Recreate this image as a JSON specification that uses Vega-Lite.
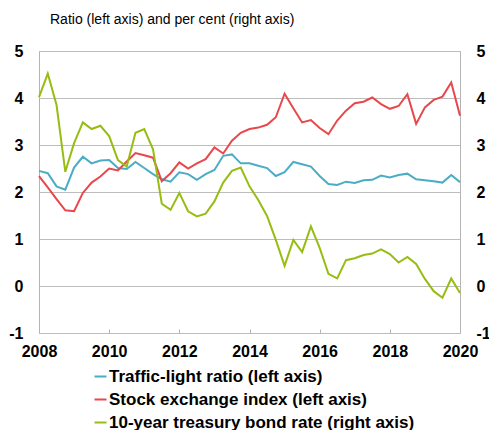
{
  "$schema": "https://vega.github.io/schema/vega-lite/v6.json",
  "width": 421,
  "height": 282,
  "autosize": "none",
  "padding": {"left": 39, "top": 51, "right": 29, "bottom": 97},
  "background": "white",
  "config": {
    "font": "Liberation Sans",
    "view": {"stroke": "#b4b4b4", "strokeWidth": 1},
    "axis": {"labelFont": "Liberation Sans", "labelFontWeight": "bold", "labelFontSize": 16, "labelColor": "#000000", "titleFontSize": 0}
  },
  "title": {
    "text": "Ratio (left axis) and per cent (right axis)",
    "anchor": "start",
    "frame": "group",
    "dx": 11,
    "offset": 5,
    "baseline": "alphabetic",
    "fontSize": 14,
    "fontWeight": "normal",
    "font": "Liberation Sans",
    "color": "#000000"
  },
  "data": {
    "values": [
      {"t": 2008.00, "s": "Traffic-light ratio (left axis)", "v": 2.45},
      {"t": 2008.25, "s": "Traffic-light ratio (left axis)", "v": 2.40},
      {"t": 2008.50, "s": "Traffic-light ratio (left axis)", "v": 2.12},
      {"t": 2008.75, "s": "Traffic-light ratio (left axis)", "v": 2.05},
      {"t": 2009.00, "s": "Traffic-light ratio (left axis)", "v": 2.52},
      {"t": 2009.25, "s": "Traffic-light ratio (left axis)", "v": 2.75},
      {"t": 2009.50, "s": "Traffic-light ratio (left axis)", "v": 2.61},
      {"t": 2009.75, "s": "Traffic-light ratio (left axis)", "v": 2.67},
      {"t": 2010.00, "s": "Traffic-light ratio (left axis)", "v": 2.68},
      {"t": 2010.25, "s": "Traffic-light ratio (left axis)", "v": 2.51},
      {"t": 2010.50, "s": "Traffic-light ratio (left axis)", "v": 2.49},
      {"t": 2010.75, "s": "Traffic-light ratio (left axis)", "v": 2.64},
      {"t": 2011.00, "s": "Traffic-light ratio (left axis)", "v": 2.51},
      {"t": 2011.25, "s": "Traffic-light ratio (left axis)", "v": 2.38},
      {"t": 2011.50, "s": "Traffic-light ratio (left axis)", "v": 2.27},
      {"t": 2011.75, "s": "Traffic-light ratio (left axis)", "v": 2.22},
      {"t": 2012.00, "s": "Traffic-light ratio (left axis)", "v": 2.42},
      {"t": 2012.25, "s": "Traffic-light ratio (left axis)", "v": 2.38},
      {"t": 2012.50, "s": "Traffic-light ratio (left axis)", "v": 2.26},
      {"t": 2012.75, "s": "Traffic-light ratio (left axis)", "v": 2.38},
      {"t": 2013.00, "s": "Traffic-light ratio (left axis)", "v": 2.47},
      {"t": 2013.25, "s": "Traffic-light ratio (left axis)", "v": 2.77},
      {"t": 2013.50, "s": "Traffic-light ratio (left axis)", "v": 2.80},
      {"t": 2013.75, "s": "Traffic-light ratio (left axis)", "v": 2.61},
      {"t": 2014.00, "s": "Traffic-light ratio (left axis)", "v": 2.61},
      {"t": 2014.25, "s": "Traffic-light ratio (left axis)", "v": 2.56},
      {"t": 2014.50, "s": "Traffic-light ratio (left axis)", "v": 2.51},
      {"t": 2014.75, "s": "Traffic-light ratio (left axis)", "v": 2.34},
      {"t": 2015.00, "s": "Traffic-light ratio (left axis)", "v": 2.42},
      {"t": 2015.25, "s": "Traffic-light ratio (left axis)", "v": 2.64},
      {"t": 2015.50, "s": "Traffic-light ratio (left axis)", "v": 2.59},
      {"t": 2015.75, "s": "Traffic-light ratio (left axis)", "v": 2.54},
      {"t": 2016.00, "s": "Traffic-light ratio (left axis)", "v": 2.34},
      {"t": 2016.25, "s": "Traffic-light ratio (left axis)", "v": 2.17},
      {"t": 2016.50, "s": "Traffic-light ratio (left axis)", "v": 2.15},
      {"t": 2016.75, "s": "Traffic-light ratio (left axis)", "v": 2.22},
      {"t": 2017.00, "s": "Traffic-light ratio (left axis)", "v": 2.19},
      {"t": 2017.25, "s": "Traffic-light ratio (left axis)", "v": 2.25},
      {"t": 2017.50, "s": "Traffic-light ratio (left axis)", "v": 2.26},
      {"t": 2017.75, "s": "Traffic-light ratio (left axis)", "v": 2.35},
      {"t": 2018.00, "s": "Traffic-light ratio (left axis)", "v": 2.31},
      {"t": 2018.25, "s": "Traffic-light ratio (left axis)", "v": 2.36},
      {"t": 2018.50, "s": "Traffic-light ratio (left axis)", "v": 2.39},
      {"t": 2018.75, "s": "Traffic-light ratio (left axis)", "v": 2.27},
      {"t": 2019.00, "s": "Traffic-light ratio (left axis)", "v": 2.25},
      {"t": 2019.25, "s": "Traffic-light ratio (left axis)", "v": 2.23},
      {"t": 2019.50, "s": "Traffic-light ratio (left axis)", "v": 2.20},
      {"t": 2019.75, "s": "Traffic-light ratio (left axis)", "v": 2.36},
      {"t": 2020.00, "s": "Traffic-light ratio (left axis)", "v": 2.21},
      {"t": 2008.00, "s": "Stock exchange index (left axis)", "v": 2.34},
      {"t": 2008.25, "s": "Stock exchange index (left axis)", "v": 2.10},
      {"t": 2008.50, "s": "Stock exchange index (left axis)", "v": 1.85},
      {"t": 2008.75, "s": "Stock exchange index (left axis)", "v": 1.61},
      {"t": 2009.00, "s": "Stock exchange index (left axis)", "v": 1.59},
      {"t": 2009.25, "s": "Stock exchange index (left axis)", "v": 1.98},
      {"t": 2009.50, "s": "Stock exchange index (left axis)", "v": 2.20},
      {"t": 2009.75, "s": "Stock exchange index (left axis)", "v": 2.33},
      {"t": 2010.00, "s": "Stock exchange index (left axis)", "v": 2.50},
      {"t": 2010.25, "s": "Stock exchange index (left axis)", "v": 2.46},
      {"t": 2010.50, "s": "Stock exchange index (left axis)", "v": 2.65},
      {"t": 2010.75, "s": "Stock exchange index (left axis)", "v": 2.83},
      {"t": 2011.00, "s": "Stock exchange index (left axis)", "v": 2.78},
      {"t": 2011.25, "s": "Stock exchange index (left axis)", "v": 2.73},
      {"t": 2011.50, "s": "Stock exchange index (left axis)", "v": 2.23},
      {"t": 2011.75, "s": "Stock exchange index (left axis)", "v": 2.40},
      {"t": 2012.00, "s": "Stock exchange index (left axis)", "v": 2.63},
      {"t": 2012.25, "s": "Stock exchange index (left axis)", "v": 2.50},
      {"t": 2012.50, "s": "Stock exchange index (left axis)", "v": 2.61},
      {"t": 2012.75, "s": "Stock exchange index (left axis)", "v": 2.70},
      {"t": 2013.00, "s": "Stock exchange index (left axis)", "v": 2.95},
      {"t": 2013.25, "s": "Stock exchange index (left axis)", "v": 2.82},
      {"t": 2013.50, "s": "Stock exchange index (left axis)", "v": 3.09},
      {"t": 2013.75, "s": "Stock exchange index (left axis)", "v": 3.26},
      {"t": 2014.00, "s": "Stock exchange index (left axis)", "v": 3.34},
      {"t": 2014.25, "s": "Stock exchange index (left axis)", "v": 3.37},
      {"t": 2014.50, "s": "Stock exchange index (left axis)", "v": 3.43},
      {"t": 2014.75, "s": "Stock exchange index (left axis)", "v": 3.59},
      {"t": 2015.00, "s": "Stock exchange index (left axis)", "v": 4.09},
      {"t": 2015.25, "s": "Stock exchange index (left axis)", "v": 3.78},
      {"t": 2015.50, "s": "Stock exchange index (left axis)", "v": 3.48},
      {"t": 2015.75, "s": "Stock exchange index (left axis)", "v": 3.53},
      {"t": 2016.00, "s": "Stock exchange index (left axis)", "v": 3.36},
      {"t": 2016.25, "s": "Stock exchange index (left axis)", "v": 3.23},
      {"t": 2016.50, "s": "Stock exchange index (left axis)", "v": 3.52},
      {"t": 2016.75, "s": "Stock exchange index (left axis)", "v": 3.73},
      {"t": 2017.00, "s": "Stock exchange index (left axis)", "v": 3.89},
      {"t": 2017.25, "s": "Stock exchange index (left axis)", "v": 3.92},
      {"t": 2017.50, "s": "Stock exchange index (left axis)", "v": 4.01},
      {"t": 2017.75, "s": "Stock exchange index (left axis)", "v": 3.87},
      {"t": 2018.00, "s": "Stock exchange index (left axis)", "v": 3.77},
      {"t": 2018.25, "s": "Stock exchange index (left axis)", "v": 3.83},
      {"t": 2018.50, "s": "Stock exchange index (left axis)", "v": 4.08},
      {"t": 2018.75, "s": "Stock exchange index (left axis)", "v": 3.45},
      {"t": 2019.00, "s": "Stock exchange index (left axis)", "v": 3.80},
      {"t": 2019.25, "s": "Stock exchange index (left axis)", "v": 3.96},
      {"t": 2019.50, "s": "Stock exchange index (left axis)", "v": 4.03},
      {"t": 2019.75, "s": "Stock exchange index (left axis)", "v": 4.33},
      {"t": 2020.00, "s": "Stock exchange index (left axis)", "v": 3.62},
      {"t": 2008.00, "s": "10-year treasury bond rate (right axis)", "v": 4.02},
      {"t": 2008.25, "s": "10-year treasury bond rate (right axis)", "v": 4.52},
      {"t": 2008.50, "s": "10-year treasury bond rate (right axis)", "v": 3.85},
      {"t": 2008.75, "s": "10-year treasury bond rate (right axis)", "v": 2.43},
      {"t": 2009.00, "s": "10-year treasury bond rate (right axis)", "v": 3.04},
      {"t": 2009.25, "s": "10-year treasury bond rate (right axis)", "v": 3.48},
      {"t": 2009.50, "s": "10-year treasury bond rate (right axis)", "v": 3.34},
      {"t": 2009.75, "s": "10-year treasury bond rate (right axis)", "v": 3.41},
      {"t": 2010.00, "s": "10-year treasury bond rate (right axis)", "v": 3.19},
      {"t": 2010.25, "s": "10-year treasury bond rate (right axis)", "v": 2.68},
      {"t": 2010.50, "s": "10-year treasury bond rate (right axis)", "v": 2.54},
      {"t": 2010.75, "s": "10-year treasury bond rate (right axis)", "v": 3.26},
      {"t": 2011.00, "s": "10-year treasury bond rate (right axis)", "v": 3.34},
      {"t": 2011.25, "s": "10-year treasury bond rate (right axis)", "v": 2.91},
      {"t": 2011.50, "s": "10-year treasury bond rate (right axis)", "v": 1.75},
      {"t": 2011.75, "s": "10-year treasury bond rate (right axis)", "v": 1.62},
      {"t": 2012.00, "s": "10-year treasury bond rate (right axis)", "v": 1.98},
      {"t": 2012.25, "s": "10-year treasury bond rate (right axis)", "v": 1.59},
      {"t": 2012.50, "s": "10-year treasury bond rate (right axis)", "v": 1.48},
      {"t": 2012.75, "s": "10-year treasury bond rate (right axis)", "v": 1.54},
      {"t": 2013.00, "s": "10-year treasury bond rate (right axis)", "v": 1.80},
      {"t": 2013.25, "s": "10-year treasury bond rate (right axis)", "v": 2.20},
      {"t": 2013.50, "s": "10-year treasury bond rate (right axis)", "v": 2.45},
      {"t": 2013.75, "s": "10-year treasury bond rate (right axis)", "v": 2.52},
      {"t": 2014.00, "s": "10-year treasury bond rate (right axis)", "v": 2.12},
      {"t": 2014.25, "s": "10-year treasury bond rate (right axis)", "v": 1.83},
      {"t": 2014.50, "s": "10-year treasury bond rate (right axis)", "v": 1.49},
      {"t": 2014.75, "s": "10-year treasury bond rate (right axis)", "v": 0.98},
      {"t": 2015.00, "s": "10-year treasury bond rate (right axis)", "v": 0.43},
      {"t": 2015.25, "s": "10-year treasury bond rate (right axis)", "v": 0.98},
      {"t": 2015.50, "s": "10-year treasury bond rate (right axis)", "v": 0.72},
      {"t": 2015.75, "s": "10-year treasury bond rate (right axis)", "v": 1.27},
      {"t": 2016.00, "s": "10-year treasury bond rate (right axis)", "v": 0.81},
      {"t": 2016.25, "s": "10-year treasury bond rate (right axis)", "v": 0.26},
      {"t": 2016.50, "s": "10-year treasury bond rate (right axis)", "v": 0.16},
      {"t": 2016.75, "s": "10-year treasury bond rate (right axis)", "v": 0.55},
      {"t": 2017.00, "s": "10-year treasury bond rate (right axis)", "v": 0.59},
      {"t": 2017.25, "s": "10-year treasury bond rate (right axis)", "v": 0.66},
      {"t": 2017.50, "s": "10-year treasury bond rate (right axis)", "v": 0.69},
      {"t": 2017.75, "s": "10-year treasury bond rate (right axis)", "v": 0.78},
      {"t": 2018.00, "s": "10-year treasury bond rate (right axis)", "v": 0.68},
      {"t": 2018.25, "s": "10-year treasury bond rate (right axis)", "v": 0.50},
      {"t": 2018.50, "s": "10-year treasury bond rate (right axis)", "v": 0.62},
      {"t": 2018.75, "s": "10-year treasury bond rate (right axis)", "v": 0.47},
      {"t": 2019.00, "s": "10-year treasury bond rate (right axis)", "v": 0.15},
      {"t": 2019.25, "s": "10-year treasury bond rate (right axis)", "v": -0.11},
      {"t": 2019.50, "s": "10-year treasury bond rate (right axis)", "v": -0.25},
      {"t": 2019.75, "s": "10-year treasury bond rate (right axis)", "v": 0.16},
      {"t": 2020.00, "s": "10-year treasury bond rate (right axis)", "v": -0.15}
    ]
  },
  "encoding": {
    "x": {
      "field": "t",
      "type": "quantitative",
      "scale": {"domain": [2008, 2020], "nice": false, "zero": false},
      "axis": {
        "values": [2008, 2010, 2012, 2014, 2016, 2018, 2020],
        "format": "d",
        "title": null,
        "grid": false,
        "domain": false,
        "ticks": true,
        "tickSize": -4,
        "tickColor": "#b4b4b4",
        "labelPadding": 14,
        "labelFlush": false,
        "labelOverlap": false
      }
    },
    "color": {
      "field": "s",
      "type": "nominal",
      "scale": {
        "domain": ["Traffic-light ratio (left axis)", "Stock exchange index (left axis)", "10-year treasury bond rate (right axis)"],
        "range": ["#4bacc6", "#e8474b", "#97bd12"]
      },
      "legend": {
        "title": null,
        "orient": "none",
        "legendX": 53,
        "legendY": 317,
        "direction": "vertical",
        "symbolType": "stroke",
        "symbolSize": 144,
        "symbolStrokeWidth": 2,
        "labelFont": "Liberation Sans",
        "labelFontWeight": "bold",
        "labelFontSize": 17,
        "labelColor": "#000000",
        "labelOffset": 0,
        "labelLimit": 500,
        "rowPadding": 5
      }
    }
  },
  "layer": [
    {
      "transform": [{"filter": "datum.s !== '10-year treasury bond rate (right axis)'"}],
      "mark": {"type": "line", "strokeWidth": 2},
      "encoding": {
        "y": {
          "field": "v",
          "type": "quantitative",
          "scale": {"domain": [-1, 5], "nice": false},
          "axis": {
            "orient": "left",
            "values": [-1, 0, 1, 2, 3, 4, 5],
            "labelExpr": "toString(datum.value)",
            "title": null,
            "grid": true,
            "gridColor": "#bdbdbd",
            "gridWidth": 1,
            "domain": false,
            "ticks": false,
            "labelPadding": 16
          }
        }
      }
    },
    {
      "transform": [{"filter": "datum.s === '10-year treasury bond rate (right axis)'"}],
      "mark": {"type": "line", "strokeWidth": 2},
      "encoding": {
        "y": {
          "field": "v",
          "type": "quantitative",
          "scale": {"domain": [-1, 5], "nice": false},
          "axis": {
            "orient": "right",
            "values": [-1, 0, 1, 2, 3, 4, 5],
            "labelExpr": "toString(datum.value)",
            "title": null,
            "grid": false,
            "domain": false,
            "ticks": false,
            "labelPadding": 16
          }
        }
      }
    }
  ],
  "resolve": {"scale": {"y": "independent"}}
}
